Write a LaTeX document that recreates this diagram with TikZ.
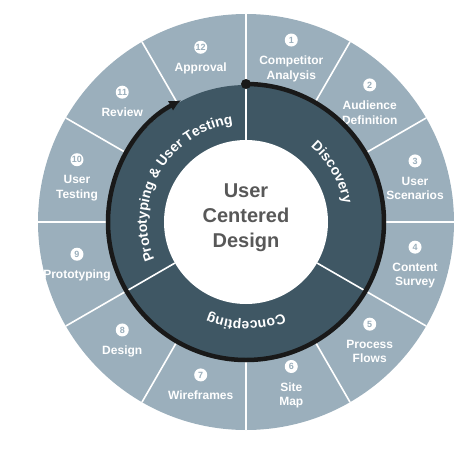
\documentclass[tikz,border=0pt]{standalone}
\usepackage{fontspec}
\setmainfont{Liberation Sans}
\usetikzlibrary{arrows.meta,positioning,decorations.text}
\definecolor{ringlight}{HTML}{9BAFBC}
\definecolor{ringdark}{HTML}{3F5764}
\definecolor{hubtext}{HTML}{585858}
\newcommand{\ringfont}{\bfseries\fontsize{14}{14}\selectfont\color{white}}

\begin{document}
\begin{tikzpicture}[x=1pt,y=1pt,
    stage/.style={text=white,font=\bfseries\fontsize{12}{14.5}\selectfont,align=center,inner sep=0pt},
    badge/.style={circle,fill=white,text=ringlight,font=\bfseries\fontsize{9}{9}\selectfont,inner sep=0pt,minimum size=13pt},
    sep/.style={white,line width=1.6pt},
    phase/.style={decorate,decoration={text along path,text align=center,text={#1}}},
    >={Latex[length=12pt,width=11pt]}]
  \useasboundingbox (-246,-231) rectangle (228,222);
  % rings
  \fill[ringlight] (0,0) circle (208);
  \fill[ringdark] (0,0) circle (137);
  \fill[white] (0,0) circle (82);
  \foreach \a in {0,30,...,330}
    \draw[sep] (\a:137) -- (\a:208);
  \foreach \a in {90,210,330}
    \draw[sep] (\a:82) -- (\a:137);
  % steps
  \foreach \i/\txt in {1/{Competitor\\Analysis},2/{Audience\\Definition},3/{User\\Scenarios},
      4/{Content\\Survey},5/{Process\\Flows},6/{Site\\Map},7/{Wireframes},8/{Design},
      9/{Prototyping},10/{User\\Testing},11/{Review},12/{Approval}} {
    \pgfmathsetmacro{\ang}{105-30*\i}
    \node[stage] (st\i) at ({175*cos(\ang)},{169*sin(\ang)-10}) {\txt};
    \node[badge,above=9pt of st\i] (num\i) {\i};
  }
  % phases
  \path[phase={|\ringfont|Discovery}] (90:99) arc[start angle=90,end angle=-30,radius=99];
  \path[phase={|\ringfont|Concepting}] (-30:99) arc[start angle=-30,end angle=-150,radius=99];
  \path[phase={|\ringfont|Prototyping {\&} User Testing}] (210:99) arc[start angle=210,end angle=90,radius=99];
  \node[font=\bfseries\fontsize{20}{25}\selectfont,text=hubtext,align=center] (hub) at (0,4) {User\\Centered\\Design};
  % cycle arrow
  \coordinate (start) at (90:138);
  \draw[->,line width=4.5pt,black!90] (start) arc[start angle=90,end angle=-242,radius=138];
  \fill[black!90] (start) circle (5);
\end{tikzpicture}
\end{document}
